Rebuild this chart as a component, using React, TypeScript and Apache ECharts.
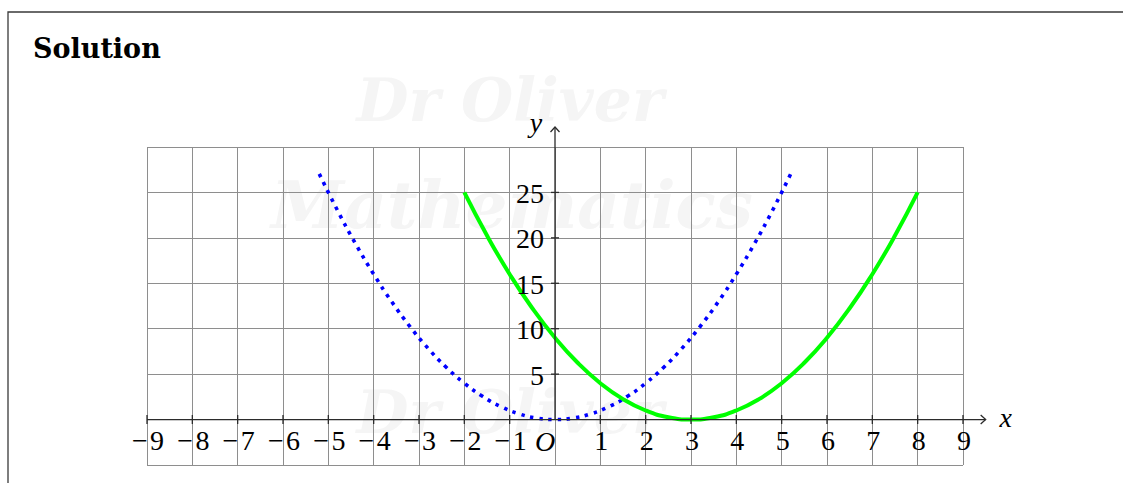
import React, { useEffect, useRef } from "react";
import * as echarts from "echarts";

// Axis ranges and tick values
const X_MIN = -9;
const X_MAX = 9;
const Y_MIN = -5;
const Y_MAX = 30;
const X_TICKS = [-9, -8, -7, -6, -5, -4, -3, -2, -1, 1, 2, 3, 4, 5, 6, 7, 8, 9];
const Y_TICKS = [5, 10, 15, 20, 25];
const X_AXIS_END = 9.5;
const Y_AXIS_END = 32.2;

// y = x^2 (blue, dotted)
const blueX = [-5.2, -4.8, -4.4, -4, -3.6, -3.2, -2.8, -2.4, -2, -1.6, -1.2, -0.8, -0.4, 0, 0.4, 0.8, 1.2, 1.6, 2, 2.4, 2.8, 3.2, 3.6, 4, 4.4, 4.8, 5.2];
const blueY = [27.04, 23.04, 19.36, 16, 12.96, 10.24, 7.84, 5.76, 4, 2.56, 1.44, 0.64, 0.16, 0, 0.16, 0.64, 1.44, 2.56, 4, 5.76, 7.84, 10.24, 12.96, 16, 19.36, 23.04, 27.04];

// y = (x - 3)^2 (green, solid)
const greenX = [-2, -1.5, -1, -0.5, 0, 0.5, 1, 1.5, 2, 2.5, 3, 3.5, 4, 4.5, 5, 5.5, 6, 6.5, 7, 7.5, 8];
const greenY = [25, 20.25, 16, 12.25, 9, 6.25, 4, 2.25, 1, 0.25, 0, 0.25, 1, 2.25, 4, 6.25, 9, 12.25, 16, 20.25, 25];

const SERIF = "'Liberation Serif', 'DejaVu Serif', serif";
const AXIS_COLOR = "#2b2b2b";
const GRID_COLOR = "#8e8e8e";

const fmtNum = (v: number) => (v < 0 ? "\u2212\u200a" + Math.abs(v) : String(v));

export default function App() {
  const ref = useRef<HTMLDivElement>(null);

  useEffect(() => {
    if (!ref.current) return;
    const chart = echarts.init(ref.current, undefined, { renderer: "svg" });

    chart.setOption({
      animation: false,
      backgroundColor: "#ffffff",
      title: {
        text: "Solution",
        left: 28,
        top: 30,
        textStyle: { fontFamily: "'DejaVu Serif', serif", fontWeight: "bold", fontSize: 27, color: "#000" },
      },
      grid: { left: 147, right: 160, top: 147, bottom: 18, containLabel: false, outerBoundsMode: "none" },
      xAxis: {
        type: "value",
        min: X_MIN,
        max: X_MAX,
        interval: 1,
        axisLine: { show: false },
        axisTick: { show: false },
        axisLabel: { show: false },
        splitLine: { show: true, lineStyle: { color: GRID_COLOR, width: 1 } },
      },
      yAxis: {
        type: "value",
        min: Y_MIN,
        max: Y_MAX,
        interval: 5,
        axisLine: { show: false },
        axisTick: { show: false },
        axisLabel: { show: false },
        splitLine: { show: true, lineStyle: { color: GRID_COLOR, width: 1 } },
      },
      series: [
        {
          type: "line",
          data: blueX.map((x, i) => [x, blueY[i]]),
          smooth: true,
          showSymbol: false,
          z: 3,
          lineStyle: { color: "#0000ff", width: 3.6, type: [3.6, 5.6], cap: "butt" },
        },
        {
          type: "line",
          data: greenX.map((x, i) => [x, greenY[i]]),
          smooth: true,
          showSymbol: false,
          z: 4,
          lineStyle: { color: "#00ff00", width: 4 },
        },
      ],
    });

    const px = (x: number, y: number) =>
      chart.convertToPixel({ xAxisIndex: 0, yAxisIndex: 0 }, [x, y]) as number[];

    const origin = px(0, 0);
    const xStart = px(X_MIN, 0);
    const xEnd = px(X_AXIS_END, 0);
    const yEnd = px(0, Y_AXIS_END);

    const axisStyle = { stroke: AXIS_COLOR, lineWidth: 1.3 };
    const graphics: any[] = [];

    // frame around the solution
    graphics.push({
      type: "rect",
      shape: { x: 8, y: 12, width: 1300, height: 700 },
      style: { fill: "none", stroke: "#3a3a3a", lineWidth: 1.3 },
      z: 1,
    });

    // faint watermark
    const wm = { fill: "#f5f5f5", fontFamily: "'DejaVu Serif', serif", fontStyle: "italic", fontWeight: "bold" };
    graphics.push(
      { type: "text", x: 510, y: 100, z: -10, silent: true, style: { ...wm, text: "Dr Oliver", fontSize: 60, align: "center", verticalAlign: "middle" } },
      { type: "text", x: 512, y: 205, z: -10, silent: true, style: { ...wm, text: "Mathematics", fontSize: 66, align: "center", verticalAlign: "middle" } },
      { type: "text", x: 510, y: 412, z: -10, silent: true, style: { ...wm, text: "Dr Oliver", fontSize: 60, align: "center", verticalAlign: "middle" } }
    );

    // x axis with open arrow head
    graphics.push({ type: "line", z: 5, shape: { x1: xStart[0], y1: xStart[1], x2: xEnd[0], y2: xEnd[1] }, style: axisStyle });
    graphics.push({
      type: "polyline",
      z: 5,
      shape: { points: [[xEnd[0] - 5, xEnd[1] - 4.5], [xEnd[0], xEnd[1]], [xEnd[0] - 5, xEnd[1] + 4.5]] },
      style: { ...axisStyle, fill: "none" },
    });
    // y axis with open arrow head
    graphics.push({ type: "line", z: 5, shape: { x1: origin[0], y1: origin[1], x2: yEnd[0], y2: yEnd[1] }, style: axisStyle });
    graphics.push({
      type: "polyline",
      z: 5,
      shape: { points: [[yEnd[0] - 4.5, yEnd[1] + 5], [yEnd[0], yEnd[1]], [yEnd[0] + 4.5, yEnd[1] + 5]] },
      style: { ...axisStyle, fill: "none" },
    });

    // tick marks crossing the axes, with their labels
    const lbl = { fill: "#000", fontFamily: SERIF, fontSize: 28 };
    X_TICKS.forEach((v) => {
      const p = px(v, 0);
      graphics.push({ type: "line", z: 5, shape: { x1: p[0], y1: p[1] - 4.5, x2: p[0], y2: p[1] + 4.5 }, style: axisStyle });
      graphics.push({
        type: "text",
        z: 5,
        x: p[0] + 1,
        y: p[1] + 21,
        style: { ...lbl, text: fmtNum(v), align: "center", verticalAlign: "middle" },
      });
    });
    Y_TICKS.forEach((v) => {
      const p = px(0, v);
      graphics.push({ type: "line", z: 5, shape: { x1: p[0] - 4, y1: p[1], x2: p[0] + 4, y2: p[1] }, style: axisStyle });
      graphics.push({
        type: "text",
        z: 5,
        x: p[0] - 11,
        y: p[1] + 1,
        style: { ...lbl, text: String(v), align: "right", verticalAlign: "middle" },
      });
    });

    // axis names and origin
    const it = { fill: "#000", fontFamily: SERIF, fontStyle: "italic", fontSize: 28 };
    graphics.push(
      { type: "text", z: 5, x: origin[0] - 10, y: origin[1] + 22, style: { ...it, text: "O", align: "center", verticalAlign: "middle" } },
      { type: "text", z: 5, x: xEnd[0] + 20, y: xEnd[1] - 2, style: { ...it, text: "x", align: "center", verticalAlign: "middle" } },
      { type: "text", z: 5, x: yEnd[0] - 19, y: yEnd[1] - 5, style: { ...it, text: "y", align: "center", verticalAlign: "middle" } }
    );

    chart.setOption({ graphic: { elements: graphics } });

    return () => chart.dispose();
  }, []);

  return (
    <div
      ref={ref}
      style={{ position: "fixed", left: 0, top: 0, width: 1123, height: 483, background: "#fff" }}
    />
  );
}
